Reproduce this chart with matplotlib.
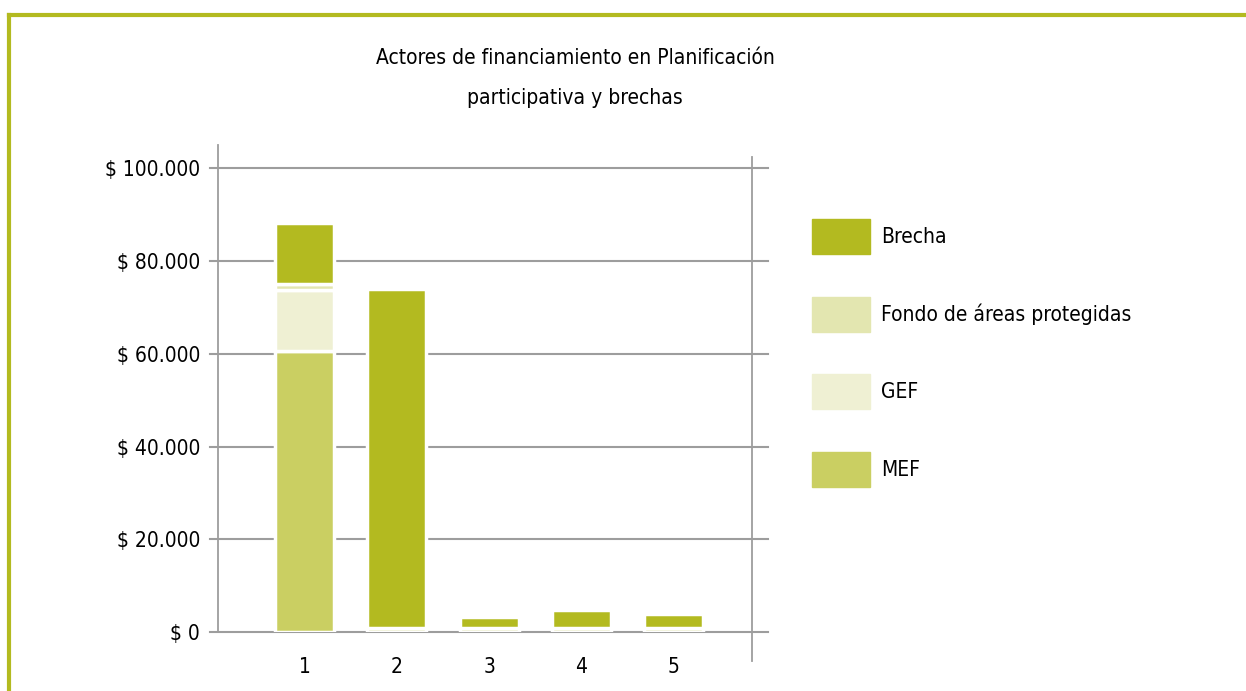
import matplotlib.pyplot as plt
import numpy as np
from matplotlib.patches import Patch
from matplotlib.lines import Line2D

# data
categories = ['1', '2', '3', '4', '5']
mef = [60500, 0, 0, 0, 0]
gef = [13300, 0, 0, 0, 0]
fondo = [1200, 800, 800, 800, 800]
brecha = [13100, 73100, 2500, 4000, 3100]
yticks = [0, 20000, 40000, 60000, 80000, 100000]
ytick_labels = ['$ 0', '$ 20.000', '$ 40.000', '$ 60.000', '$ 80.000', '$ 100.000']

c_brecha = '#b3ba20'
c_fondo = '#e3e6b0'
c_gef = '#eff0d3'
c_mef = '#cacf62'

plt.rcParams['font.family'] = ['Liberation Sans Narrow', 'DejaVu Sans']
plt.rcParams['font.stretch'] = 'condensed'

fig = plt.figure(figsize=(12.46, 6.91), dpi=100)
ax = fig.add_axes([0.175, 0.0854, 0.4286, 0.7046])

x = np.arange(1, len(categories) + 1)
w = 0.64
bottom = np.zeros(len(categories))
for vals, col in [(mef, c_mef), (gef, c_gef), (fondo, c_fondo), (brecha, c_brecha)]:
    ax.bar(x, vals, w, bottom=bottom, color=col, edgecolor='white', lw=2.5, zorder=3)
    bottom += np.array(vals)

ax.set_xlim(0.06, 5.85)
ax.set_ylim(0, 105000)
ax.set_xticks(x)
ax.set_xticklabels(categories, fontsize=15)
ax.set_yticks(yticks)
ax.set_yticklabels(ytick_labels, fontsize=15)
ax.tick_params(axis='y', length=0, pad=13)
ax.tick_params(axis='x', length=0, pad=18)

# gridlines running a bit past the axis box
for t in yticks:
    ax.axhline(t, xmin=-0.015, xmax=1.03, color='#9d9d9d', lw=1.5, clip_on=False, zorder=1)

for s in ['top', 'bottom']:
    ax.spines[s].set_visible(False)
ax.spines['left'].set_color('#9d9d9d')
ax.spines['left'].set_linewidth(1.3)
ax.spines['right'].set_visible(False)
ax.axvline(5.85, ymin=-0.06, ymax=0.975, color='#9d9d9d', lw=1.3, clip_on=False)

fig.text(0.4615, 0.887, 'Actores de financiamiento en Planificación\nparticipativa y brechas',
         ha='center', va='center', fontsize=15, linespacing=2.25)

handles = [Patch(color=c_brecha), Patch(color=c_fondo), Patch(color=c_gef), Patch(color=c_mef)]
labels = ['Brecha', 'Fondo de áreas protegidas', 'GEF', 'MEF']
fig.legend(handles, labels, loc='upper left', bbox_to_anchor=(0.645, 0.695),
           frameon=False, fontsize=15, handlelength=2.8, handleheight=2.2,
           labelspacing=2.05, handletextpad=0.5, borderaxespad=0)

# frame around the figure (top and left only)
fig.add_artist(Line2D([0.007, 1.0], [0.978, 0.978], color=c_brecha, lw=3))
fig.add_artist(Line2D([0.0075, 0.0075], [0.0, 0.978], color=c_brecha, lw=3))

fig.savefig('out.png', dpi=100)
